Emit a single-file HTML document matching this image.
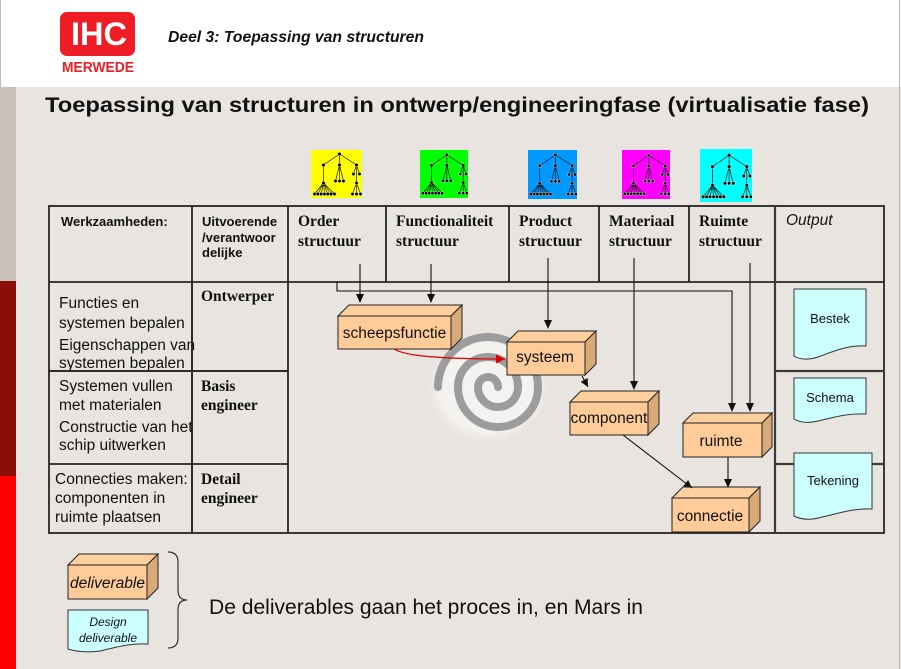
<!DOCTYPE html>
<html><head><meta charset="utf-8"><style>
html,body{margin:0;padding:0;background:#e8e4df;}
svg{display:block;}
text{font-family:"Liberation Sans",Arial,sans-serif;fill:#111;}
.sf{font-family:"Liberation Serif","Times New Roman",serif;font-weight:bold;font-size:15.5px;}
.bt{font-size:15.5px;}
.lbl{font-size:15.5px;text-anchor:middle;}
.doc{fill:#ccffff;stroke:#333;stroke-width:1;}
.fr{fill:#ffcc99;stroke:#222;stroke-width:1;}
.tp{fill:#ffcf9e;stroke:#222;stroke-width:1;}
.sd{fill:#d9a978;stroke:#222;stroke-width:1;}
.tl{stroke:#262626;stroke-width:1.8;fill:none;}
.cn{stroke:#111;stroke-width:1.1;fill:none;}
</style></head><body>
<svg width="901" height="669" viewBox="0 0 901 669" xmlns="http://www.w3.org/2000/svg">
<defs>
<marker id="ab" viewBox="0 0 10 10" refX="10" refY="5" markerWidth="9" markerHeight="8" markerUnits="userSpaceOnUse" orient="auto"><path d="M0,0 L10,5 L0,10 z" fill="#111"/></marker>
<marker id="ar" viewBox="0 0 10 10" refX="10" refY="5" markerWidth="10" markerHeight="9" markerUnits="userSpaceOnUse" orient="auto"><path d="M0,0 L10,5 L0,10 z" fill="#e00000"/></marker>
<radialGradient id="halo" cx="50%" cy="50%" r="50%">
<stop offset="0%" stop-color="#ffffff" stop-opacity="0.6"/>
<stop offset="80%" stop-color="#ffffff" stop-opacity="0.5"/>
<stop offset="100%" stop-color="#ffffff" stop-opacity="0"/>
</radialGradient>
<symbol id="tree" viewBox="0 0 50 48">
<g stroke="#000" stroke-width="0.6" fill="none">
<path d="M28,4 L12,15 M28,4 L28,15 M28,4 L45,15 M12,15 L12,33 M12,33 L3,44 M12,33 L6.3,44 M12,33 L9.6,44 M12,33 L13,44 M12,33 L16.3,44 M12,33 L19.6,44 M12,33 L23,44 M28,15 L24,31 M28,15 L28,31 M28,15 L32,31 M45,15 L42,24 M45,15 L48,24 M45,15 L45,33 M45,33 L41,44 M45,33 L45,44 M45,33 L49,44"/>
</g>
<g fill="#000" stroke="#fff" stroke-width="0.4">
<circle cx="28" cy="4" r="1.8"/><circle cx="12" cy="15" r="1.8"/><circle cx="28" cy="15" r="1.8"/><circle cx="45" cy="15" r="1.8"/>
<circle cx="12" cy="33" r="1.8"/>
<circle cx="3" cy="44" r="1.7"/><circle cx="6.3" cy="44" r="1.7"/><circle cx="9.6" cy="44" r="1.7"/><circle cx="13" cy="44" r="1.7"/><circle cx="16.3" cy="44" r="1.7"/><circle cx="19.6" cy="44" r="1.7"/><circle cx="23" cy="44" r="1.7"/>
<circle cx="24" cy="31" r="1.7"/><circle cx="28" cy="31" r="1.7"/><circle cx="32" cy="31" r="1.7"/>
<circle cx="42" cy="24" r="1.7"/><circle cx="48" cy="24" r="1.7"/><circle cx="45" cy="33" r="1.7"/>
<circle cx="41" cy="44" r="1.7"/><circle cx="45" cy="44" r="1.7"/><circle cx="49" cy="44" r="1.7"/>
</g>
</symbol>
</defs>

<!-- page background -->
<rect x="0" y="0" width="901" height="669" fill="#e8e4df"/>
<!-- header -->
<rect x="0" y="0" width="901" height="87" fill="#ffffff"/>
<line x1="0.5" y1="0" x2="0.5" y2="87" stroke="#bdbdbd" stroke-width="1"/>
<line x1="899.5" y1="0" x2="899.5" y2="669" stroke="#b8b8b8" stroke-width="1"/>
<!-- left bar -->
<rect x="0" y="87" width="16" height="194" fill="#c9c2ba"/>
<rect x="0" y="281" width="16" height="195" fill="#8b0d08"/>
<rect x="0" y="476" width="16" height="193" fill="#ff0000"/>

<!-- logo -->
<rect x="60" y="12" width="75" height="44" rx="7" ry="7" fill="#ee1c25"/>
<text x="99" y="45" font-size="32" font-weight="bold" text-anchor="middle" style="fill:#fff" textLength="56" lengthAdjust="spacingAndGlyphs">IHC</text>
<text x="62" y="72" font-size="15" font-weight="bold" style="fill:#ee1c25" textLength="72" lengthAdjust="spacingAndGlyphs">MERWEDE</text>

<text x="168" y="42" font-size="15.5" font-weight="bold" font-style="italic" textLength="256" lengthAdjust="spacingAndGlyphs">Deel 3: Toepassing van structuren</text>

<!-- title -->
<text x="45" y="112" font-size="21" font-weight="bold" textLength="824" lengthAdjust="spacingAndGlyphs">Toepassing van structuren in ontwerp/engineeringfase (virtualisatie fase)</text>

<!-- tree icons -->
<rect x="311" y="150" width="51" height="48" fill="#ffff00"/>
<use href="#tree" x="311" y="150" width="51" height="48"/>
<rect x="420" y="150" width="48" height="48" fill="#00ff00"/>
<use href="#tree" x="420" y="150" width="48" height="48"/>
<rect x="528" y="150" width="49" height="49" fill="#0099ff"/>
<use href="#tree" x="528" y="150" width="49" height="49"/>
<rect x="622" y="150" width="48" height="49" fill="#ff00ff"/>
<use href="#tree" x="622" y="150" width="48" height="49"/>
<rect x="700" y="149" width="52" height="53" fill="#00ffff"/>
<use href="#tree" x="700" y="151" width="52" height="50"/>

<!-- spiral -->
<ellipse cx="488" cy="388" rx="60" ry="55" fill="url(#halo)"/>
<path d="M498,387 A10,10 0 0 0 478,387 A20,20 0 0 0 518,387 A30,30 0 0 0 458,387 A40,40 0 0 0 538,387 A50,50 0 0 0 438,387" fill="none" stroke="#9c9c9c" stroke-width="8" stroke-linecap="round"/>

<!-- table -->
<rect x="49" y="206" width="835" height="327" class="tl"/>
<line x1="49" y1="282" x2="884" y2="282" class="tl"/>
<line x1="192" y1="206" x2="192" y2="533" class="tl"/>
<line x1="288" y1="206" x2="288" y2="533" class="tl"/>
<line x1="386" y1="206" x2="386" y2="282" class="tl"/>
<line x1="509" y1="206" x2="509" y2="282" class="tl"/>
<line x1="599" y1="206" x2="599" y2="282" class="tl"/>
<line x1="689" y1="206" x2="689" y2="282" class="tl"/>
<line x1="775" y1="206" x2="775" y2="533" class="tl" style="stroke:#3a3a3a;stroke-width:2.2"/>
<line x1="49" y1="371" x2="288" y2="371" class="tl"/>
<line x1="49" y1="464" x2="288" y2="464" class="tl"/>
<line x1="775" y1="371" x2="884" y2="371" class="tl" style="stroke:#3a3a3a;stroke-width:2.2"/>
<line x1="775" y1="464" x2="884" y2="464" class="tl" style="stroke:#3a3a3a;stroke-width:2.2"/>

<!-- header texts -->
<text x="61" y="226" font-size="13" font-weight="bold">Werkzaamheden:</text>
<text x="202" y="226" font-size="13" font-weight="bold">Uitvoerende</text>
<text x="202" y="242" font-size="13" font-weight="bold">/verantwoor</text>
<text x="202" y="257" font-size="13" font-weight="bold">delijke</text>
<text x="298" y="226" class="sf">Order</text>
<text x="298" y="246" class="sf">structuur</text>
<text x="396" y="226" class="sf">Functionaliteit</text>
<text x="396" y="246" class="sf">structuur</text>
<text x="519" y="226" class="sf">Product</text>
<text x="519" y="246" class="sf">structuur</text>
<text x="609" y="226" class="sf">Materiaal</text>
<text x="609" y="246" class="sf">structuur</text>
<text x="699" y="226" class="sf">Ruimte</text>
<text x="699" y="246" class="sf">structuur</text>
<text x="786" y="225" font-size="15.5" font-style="italic">Output</text>

<!-- row texts -->
<text x="59" y="308" class="bt">Functies en</text>
<text x="59" y="328" class="bt">systemen bepalen</text>
<text x="59" y="350" class="bt">Eigenschappen van</text>
<text x="59" y="368" class="bt">systemen bepalen</text>
<text x="59" y="391" class="bt">Systemen vullen</text>
<text x="59" y="410" class="bt">met materialen</text>
<text x="59" y="432" class="bt">Constructie van het</text>
<text x="59" y="450" class="bt">schip uitwerken</text>
<text x="55" y="484" class="bt">Connecties maken:</text>
<text x="55" y="503" class="bt">componenten in</text>
<text x="55" y="522" class="bt">ruimte plaatsen</text>
<text x="201" y="301" class="sf">Ontwerper</text>
<text x="201" y="391" class="sf">Basis</text>
<text x="201" y="410" class="sf">engineer</text>
<text x="201" y="484" class="sf">Detail</text>
<text x="201" y="503" class="sf">engineer</text>

<!-- redraw lines over text overlap -->
<line x1="49" y1="371" x2="288" y2="371" class="tl"/>
<line x1="192" y1="282" x2="192" y2="533" class="tl"/>

<!-- connectors -->
<path class="cn" d="M337,282 V291 H732 V404"/>
<polygon points="728,403 736,403 732,412" fill="#111"/>
<line x1="360" y1="264" x2="360" y2="295" class="cn"/>
<polygon points="356,294 364,294 360,303" fill="#111"/>
<line x1="431" y1="264" x2="431" y2="295" class="cn"/>
<polygon points="427,294 435,294 431,303" fill="#111"/>
<line x1="548" y1="258" x2="548" y2="321" class="cn"/>
<polygon points="544,320 552,320 548,329" fill="#111"/>
<line x1="634" y1="258" x2="634" y2="382" class="cn"/>
<polygon points="630,381 638,381 634,390" fill="#111"/>
<line x1="750" y1="263" x2="750" y2="404" class="cn"/>
<polygon points="746,403 754,403 750,412" fill="#111"/>

<!-- boxes -->
<polygon class="tp" points="338,316 349,305 462,305 451,316"/>
<polygon class="sd" points="451,316 462,305 462,338 451,349"/>
<rect class="fr" x="338" y="316" width="113" height="33"/>
<text x="394.5" y="338" class="lbl">scheepsfunctie</text>

<polygon class="tp" points="507,342 518,331 596,331 585,342"/>
<polygon class="sd" points="585,342 596,331 596,364 585,375"/>
<rect class="fr" x="507" y="342" width="78" height="33"/>
<text x="545" y="362" class="lbl">systeem</text>

<polygon class="tp" points="570,402 581,391 659,391 648,402"/>
<polygon class="sd" points="648,402 659,391 659,424 648,435"/>
<rect class="fr" x="570" y="402" width="78" height="33"/>
<text x="609" y="423" class="lbl">component</text>

<polygon class="tp" points="683,423 693,413 772,413 762,423"/>
<polygon class="sd" points="762,423 772,413 772,447 762,457"/>
<rect class="fr" x="683" y="423" width="79" height="34"/>
<text x="721" y="446" class="lbl">ruimte</text>

<polygon class="tp" points="672,498 683,487 760,487 749,498"/>
<polygon class="sd" points="749,498 760,487 760,521 749,532"/>
<rect class="fr" x="672" y="498" width="77" height="34"/>
<text x="710" y="521" class="lbl">connectie</text>

<!-- red curved arrow -->
<path d="M394,349 C405,356 440,359 505,359" fill="none" stroke="#e00000" stroke-width="1.2" marker-end="url(#ar)"/>
<!-- other arrows -->
<line x1="582" y1="376" x2="588" y2="387" class="cn" marker-end="url(#ab)"/>
<line x1="623" y1="435" x2="692" y2="488" class="cn" marker-end="url(#ab)"/>
<line x1="728" y1="457" x2="728" y2="480" class="cn"/>
<polygon points="724,479 732,479 728,488" fill="#111"/>

<!-- output docs -->
<path class="doc" d="M794,289 H866 V346 C846,345 832,352 818,357 C806,361 799,359 794,356 Z"/>
<text x="830" y="323" font-size="13" text-anchor="middle">Bestek</text>
<path class="doc" d="M794,378 H866 V414 C846,413 832,418 818,421 C806,424 799,422 794,419 Z"/>
<text x="830" y="402" font-size="13" text-anchor="middle">Schema</text>
<path class="doc" d="M794,453 H872 V509 C852,508 837,514 822,517 C809,521 800,519 794,516 Z"/>
<text x="833" y="485" font-size="13" text-anchor="middle">Tekening</text>

<!-- legend -->
<polygon class="tp" points="68,565 79,554 158,554 147,565"/>
<polygon class="sd" points="147,565 158,554 158,588 147,599"/>
<rect class="fr" x="68" y="565" width="79" height="34"/>
<text x="107.5" y="588" class="lbl" font-style="italic">deliverable</text>
<path class="doc" d="M68,610 H148 V644 C128,643 114,648 100,651 C86,653 74,651 68,649 Z"/>
<text x="108" y="626" font-size="12" font-style="italic" text-anchor="middle">Design</text>
<text x="108" y="642" font-size="12" font-style="italic" text-anchor="middle">deliverable</text>
<path d="M168,552 Q178,552 178,562 L178,590 Q178,600 187,600 Q178,600 178,610 L178,638 Q178,648 168,648" fill="none" stroke="#333" stroke-width="1.2"/>
<text x="209" y="614" font-size="21" textLength="434" lengthAdjust="spacingAndGlyphs">De deliverables gaan het proces in, en Mars in</text>
</svg>
</body></html>
